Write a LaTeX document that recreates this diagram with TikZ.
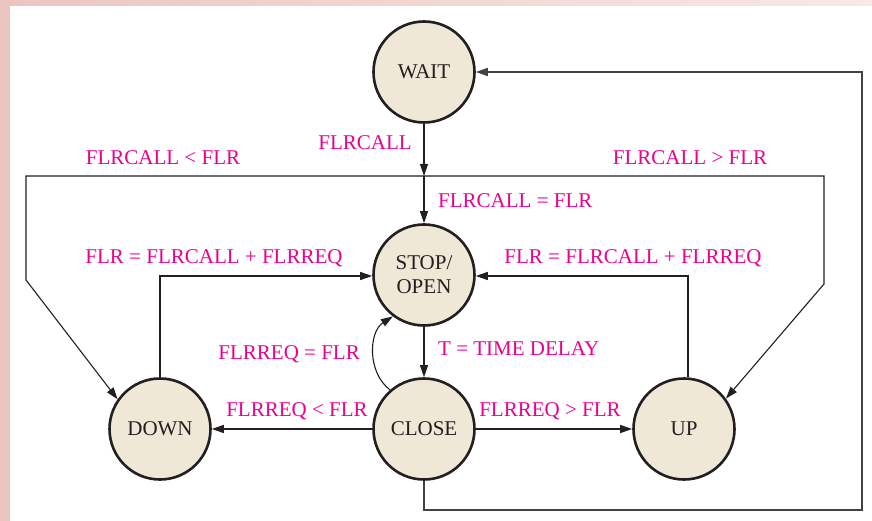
\documentclass[tikz,border=0pt]{standalone}
\usepackage{fontspec}
\setmainfont{Liberation Serif}
\usepackage{xcolor}
\usepackage{tikz}
\usetikzlibrary{
  arrows.meta,
  positioning,
  calc
}
\definecolor{StateFill}{HTML}{F0E8D7}
\definecolor{StateInk}{HTML}{231F20}
\definecolor{CondPink}{HTML}{EC008C}
\definecolor{FramePink}{HTML}{EBC6C1}
\definecolor{FrameLight}{HTML}{F8E8E6}

\begin{document}
\begin{tikzpicture}[
    x=1pt, y=-1pt,
    every node/.style={font=\fontsize{21}{24}\selectfont},
    state/.style={circle,draw=StateInk,line width=2.6pt,fill=StateFill,
      minimum size=101pt,inner sep=0pt,text=StateInk,align=center},
    cond/.style={text=CondPink,inner sep=0pt},
    wire/.style={StateInk,line width=1.1pt},
    arrow/.style={wire,-{Triangle[length=12pt,width=8pt]}}
  ]
    % page frame
    \useasboundingbox (0,0) rectangle (872,521);
    \fill[FramePink] (0,0) rectangle (872,521);
    \shade[left color=FramePink,right color=FrameLight] (10,0) rectangle (872,6);
    \fill[white] (10,6) rectangle (872,521);
    % states
    \node[state] (wait)  at (424,72)  {WAIT};
    \node[state] (stop)  at (424,275) {STOP/\\OPEN};
    \node[state] (close) at (424,429) {CLOSE};
    \node[state] (down)  at (160,429) {DOWN};
    \node[state] (up)    at (684,429) {UP};
    % corner points
    \coordinate (split) at (424,176);
    \coordinate (callL) at (26,176);
    \coordinate (callLb) at (26,280);
    \coordinate (callR) at (824,176);
    \coordinate (callRb) at (824,284);
    \coordinate (downUp) at (160,276);
    \coordinate (upUp) at (688,276);
    \coordinate (loopA) at (424,510);
    \coordinate (loopB) at (862,510);
    \coordinate (loopC) at (862,72);
    % transitions
    \draw[arrow] (wait) -- (split);
    \draw[arrow] (split) -- (stop);
    \draw[arrow] (split) -- (callL) -- (callLb) -- (down.145);
    \draw[arrow] (split) -- (callR) -- (callRb) -- (up.36);
    \draw[arrow] (down.north) -- (downUp) -- (stop.west |- downUp);
    \draw[arrow] (up.north -| upUp) -- (upUp) -- (stop.east |- upUp);
    \draw[arrow] (stop) -- (close);
    \draw[arrow] (close.131) to[bend left=55] (stop.233);
    \draw[arrow] (close) -- (down);
    \draw[arrow] (close) -- (up);
    \draw[arrow,line width=1.5pt,draw=StateInk!85] (close.south) -- (loopA) -- (loopB) -- (loopC) -- (wait.east);
    % conditions
    \node[cond,anchor=east] (lCall) at (412,143) {FLRCALL};
    \node[cond,anchor=west] (lEq) at (438,201) {FLRCALL = FLR};
    \node[cond] (lLess) at (163,158) {FLRCALL < FLR};
    \node[cond] (lMore) at (690,158) {FLRCALL > FLR};
    \node[cond] (lSumL) at (214,258) {FLR = FLRCALL + FLRREQ};
    \node[cond] (lSumR) at (633,258) {FLR = FLRCALL + FLRREQ};
    \node[cond,anchor=east] (lReqEq) at (360,354) {FLRREQ = FLR};
    \node[cond,anchor=west] (lDelay) at (438,349) {T = TIME DELAY};
    \node[cond] (lReqLess) at (297,411) {FLRREQ < FLR};
    \node[cond] (lReqMore) at (550,411) {FLRREQ > FLR};
  \end{tikzpicture}
\end{document}
